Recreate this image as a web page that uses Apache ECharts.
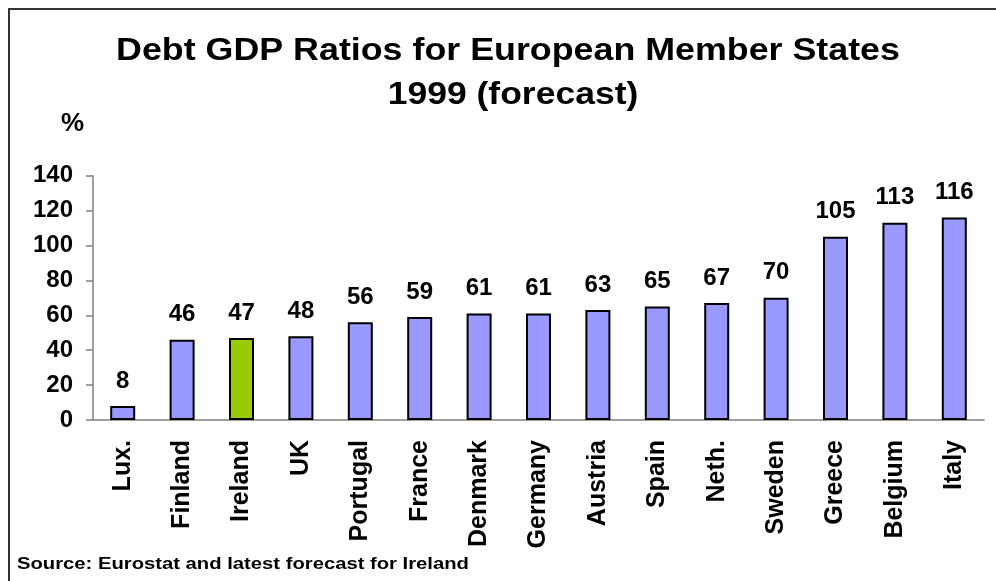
<!DOCTYPE html>
<html>
<head>
<meta charset="utf-8">
<script src="https://cdn.jsdelivr.net/npm/echarts@6/dist/echarts.min.js"></script>
<style>
  html, body { margin: 0; padding: 0; background: #fff; }
  #chart { width: 996px; height: 581px; }
</style>
</head>
<body>
<div id="chart"></div>
<script>
// Debt-to-GDP ratios, 1999 forecast, by member state
const countries = ['Lux.', 'Finland', 'Ireland', 'UK', 'Portugal', 'France', 'Denmark',
  'Germany', 'Austria', 'Spain', 'Neth.', 'Sweden', 'Greece', 'Belgium', 'Italy'];
const debtRatios = [8, 46, 47, 48, 56, 59, 61, 61, 63, 65, 67, 70, 105, 113, 116];
const highlighted = 'Ireland';
const yTicks = [0, 20, 40, 60, 80, 100, 120, 140];
const titleLines = ['Debt GDP Ratios for European Member States', '1999 (forecast)'];
const unitLabel = '%';
const sourceNote = 'Source: Eurostat and latest forecast for Ireland';

const FONT = '"Liberation Sans", Arial, sans-serif';
const chart = echarts.init(document.getElementById('chart'));

// wide bold heading text, slightly stretched horizontally
function headingText(text, x, y, size, sx, align) {
  return {
    type: 'text', x: x, y: y, scaleX: sx, silent: true,
    style: {
      text: text, font: 'bold ' + size + 'px ' + FONT, fill: '#000',
      textAlign: align, textVerticalAlign: 'middle'
    }
  };
}

chart.setOption({
  backgroundColor: '#fff',
  animation: false,
  graphic: [
    {
      type: 'rect',
      shape: { x: 9, y: 9, width: 1000, height: 600 },
      style: { fill: 'none', stroke: '#333', lineWidth: 2 },
      silent: true
    },
    headingText(titleLines[0], 508, 51, 31, 1.155, 'center'),
    headingText(titleLines[1], 513, 95, 31, 1.145, 'center'),
    headingText(unitLabel, 61, 124, 26, 1.0, 'left'),
    headingText(sourceNote, 17, 564, 17, 1.19, 'left')
  ],
  grid: { left: 93, right: 12, top: 175.7, bottom: 161 },
  xAxis: {
    type: 'category',
    data: countries,
    axisLine: { lineStyle: { color: '#808080', width: 1.5 } },
    axisTick: { alignWithLabel: false, length: 7, lineStyle: { color: '#808080', width: 1.5 } },
    axisLabel: {
      rotate: 90, margin: 20, interval: 0,
      fontFamily: FONT, fontWeight: 'bold', fontSize: 25, color: '#000'
    }
  },
  yAxis: {
    type: 'value',
    min: yTicks[0], max: yTicks[yTicks.length - 1], interval: yTicks[1] - yTicks[0],
    splitLine: { show: false },
    axisLine: { show: true, lineStyle: { color: '#808080', width: 1.5 } },
    axisTick: { show: true, length: 7, lineStyle: { color: '#808080', width: 1.5 } },
    axisLabel: {
      margin: 20,
      fontFamily: FONT, fontWeight: 'bold', fontSize: 24, color: '#000'
    }
  },
  series: [{
    type: 'bar',
    barWidth: 25,
    data: debtRatios.map((v, i) => ({
      value: v,
      itemStyle: { color: countries[i] === highlighted ? '#99CC00' : '#9999FF' }
    })),
    itemStyle: { borderColor: '#000', borderWidth: 2 },
    label: {
      show: true, position: 'top', distance: 13,
      fontFamily: FONT, fontWeight: 'bold', fontSize: 24, color: '#000'
    }
  }]
});
</script>
</body>
</html>
